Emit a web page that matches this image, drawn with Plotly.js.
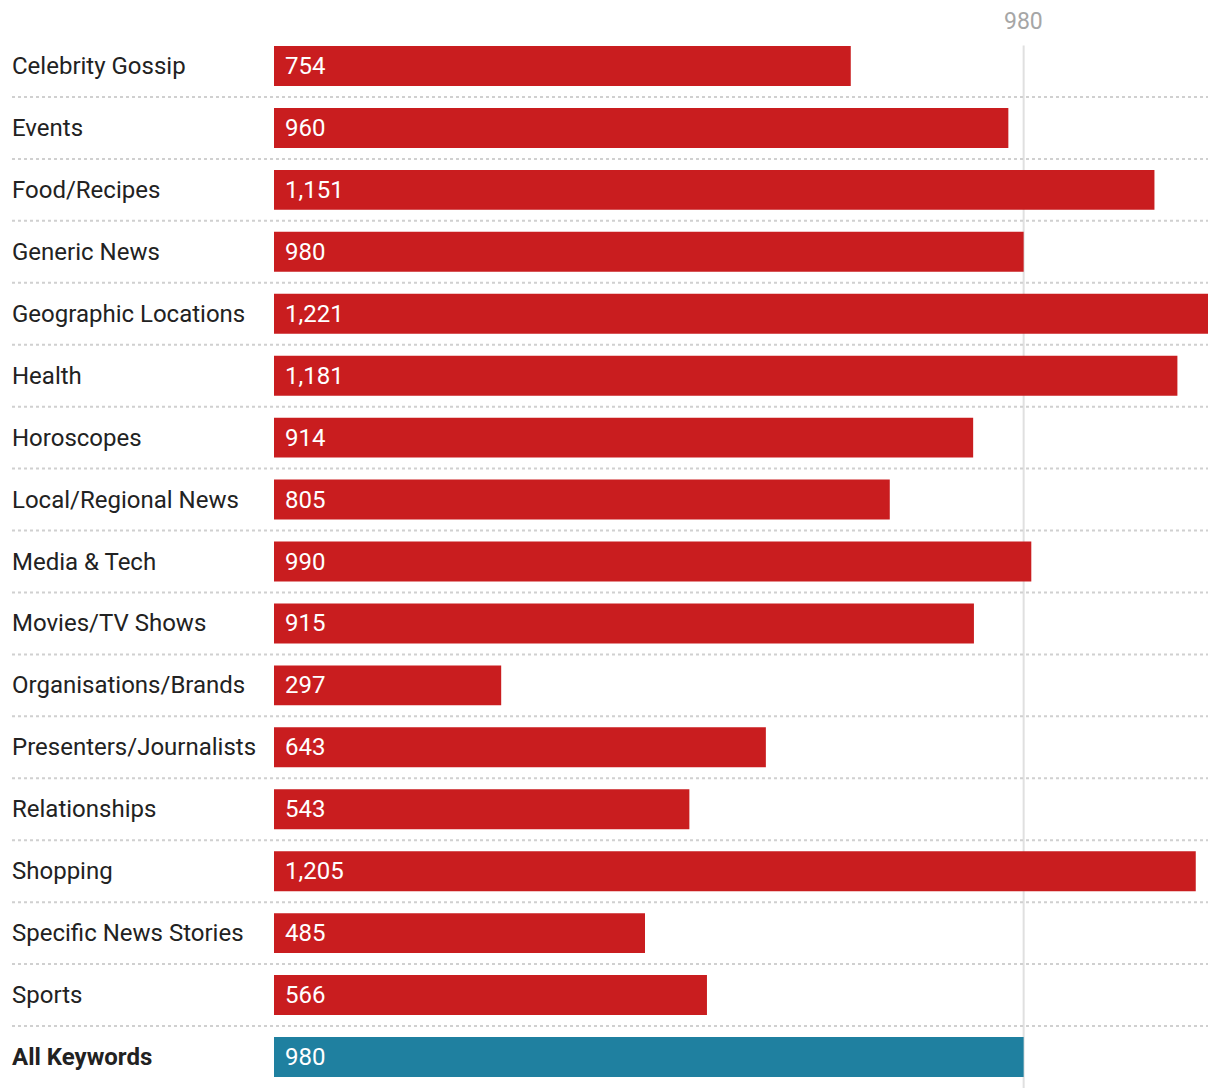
<!DOCTYPE html>
<html>
<head>
<meta charset="utf-8">
<script src="https://cdn.plot.ly/plotly-3.0.1.min.js"></script>
<style>html,body{margin:0;padding:0;background:#fff;}#chart{width:1220px;height:1088px;}</style>
</head>
<body>
<div id="chart"></div>
<script>
const categories = ["Celebrity Gossip","Events","Food/Recipes","Generic News","Geographic Locations","Health","Horoscopes","Local/Regional News","Media & Tech","Movies/TV Shows","Organisations/Brands","Presenters/Journalists","Relationships","Shopping","Specific News Stories","Sports","All Keywords"];
const values = [754,960,1151,980,1221,1181,914,805,990,915,297,643,543,1205,485,566,980];
const referenceValue = 980;
const referenceLabel = "980";

const RED = "#c91d1f", BLUE = "#1f80a0";
const n = categories.length;
const idx = categories.map((c,i)=>i);
const colors = categories.map((c,i)=> i===n-1 ? BLUE : RED);

const W = 1220, L = 274, R = 12;
const plotW = W - L - R;
const leftPaper = (12 - L) / plotW;

const shapes = [];
// reference line
shapes.push({type:'line', layer:'below', xref:'x', yref:'paper', x0:referenceValue, x1:referenceValue, y0:0, y1:0.99, line:{color:'#e0e0e0', width:2}});
// separators
for (let i=0;i<n-1;i++){
  shapes.push({type:'line', layer:'below', xref:'paper', yref:'y', x0:leftPaper, x1:1, y0:i+0.5, y1:i+0.5, line:{color:'#d0d0d0', width:2, dash:'dot'}});
}

const annotations = [];
categories.forEach((c,i)=>{
  annotations.push({xref:'paper', yref:'y', x:leftPaper, y:i, xanchor:'left', yanchor:'middle', xshift:-2, showarrow:false,
    text: i===n-1 ? '<b>'+c+'</b>' : c, font:{family:'Roboto', size:24, color:'#222'}});
  annotations.push({xref:'x', yref:'y', x:0, y:i, xanchor:'left', yanchor:'middle', xshift:9, showarrow:false,
    text: values[i].toLocaleString('en-US'), font:{family:'Roboto', size:24, color:'#fff'}});
});
annotations.push({xref:'x', yref:'paper', x:referenceValue, y:1, yanchor:'bottom', yshift:-2, showarrow:false,
  text: referenceLabel, font:{family:'Roboto', size:23, color:'#a6a6a6'}});

const trace = {type:'bar', orientation:'h', x:values, y:idx, marker:{color:colors, line:{width:0}}, hoverinfo:'none'};

const layout = {
  width:W, height:1088,
  margin:{l:L, r:R, t:35, b:0, pad:0},
  paper_bgcolor:'#fff', plot_bgcolor:'rgba(0,0,0,0)',
  bargap:0.355,
  showlegend:false,
  xaxis:{range:[0,1221], showgrid:false, zeroline:false, showticklabels:false, ticks:'', fixedrange:true},
  yaxis:{range:[n-0.5,-0.5], showgrid:false, zeroline:false, showticklabels:false, ticks:'', fixedrange:true},
  shapes:shapes, annotations:annotations,
  font:{family:'Roboto'}
};
Plotly.newPlot('chart',[trace],layout,{displayModeBar:false, staticPlot:true});
</script>
</body>
</html>
